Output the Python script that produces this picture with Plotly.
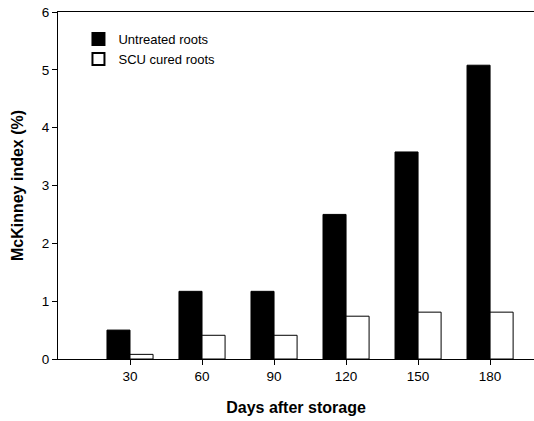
import plotly.graph_objects as go

days = [30, 60, 90, 120, 150, 180]
untreated = [0.50, 1.17, 1.17, 2.50, 3.58, 5.08]
scu_cured = [0.08, 0.41, 0.41, 0.74, 0.81, 0.81]
y_ticks = [0, 1, 2, 3, 4, 5, 6]

fig = go.Figure()
fig.add_trace(go.Bar(x=days, y=untreated, name="Untreated roots",
                     marker=dict(color="black", line=dict(color="black", width=1))))
fig.add_trace(go.Bar(x=days, y=scu_cured, name="SCU cured roots",
                     marker=dict(color="white", line=dict(color="black", width=1))))

font = dict(family="Arial, Liberation Sans, sans-serif", size=13.5, color="black")
fig.update_layout(
    width=534, height=421,
    margin=dict(l=58, r=0, t=12, b=62),
    paper_bgcolor="white", plot_bgcolor="white",
    barmode="group", bargap=0.36, bargroupgap=0,
    font=font,
    showlegend=True,
    legend=dict(x=0.043, y=0.965, xanchor="left", yanchor="top",
                bgcolor="rgba(0,0,0,0)", font=dict(size=13, color="black", family=font["family"]),
                itemsizing="constant", tracegroupgap=0),
    xaxis=dict(range=[0, 198.3], tickmode="array", tickvals=days,
               ticktext=[str(d) for d in days],
               showline=True, linecolor="black", linewidth=1, mirror=True,
               ticks="outside", ticklen=5, tickcolor="black", showgrid=False, zeroline=False,
               title=dict(text="<b>Days after storage</b>", font=dict(size=16), standoff=18)),
    yaxis=dict(range=[0, 6], tickvals=y_ticks,
               showline=True, linecolor="black", linewidth=1, mirror=False,
               ticks="outside", ticklen=5, tickcolor="black", showgrid=False, zeroline=False,
               title=dict(text="<b>McKinney index (%)</b>", font=dict(size=16), standoff=14)),
)

fig.write_html("out.html")
